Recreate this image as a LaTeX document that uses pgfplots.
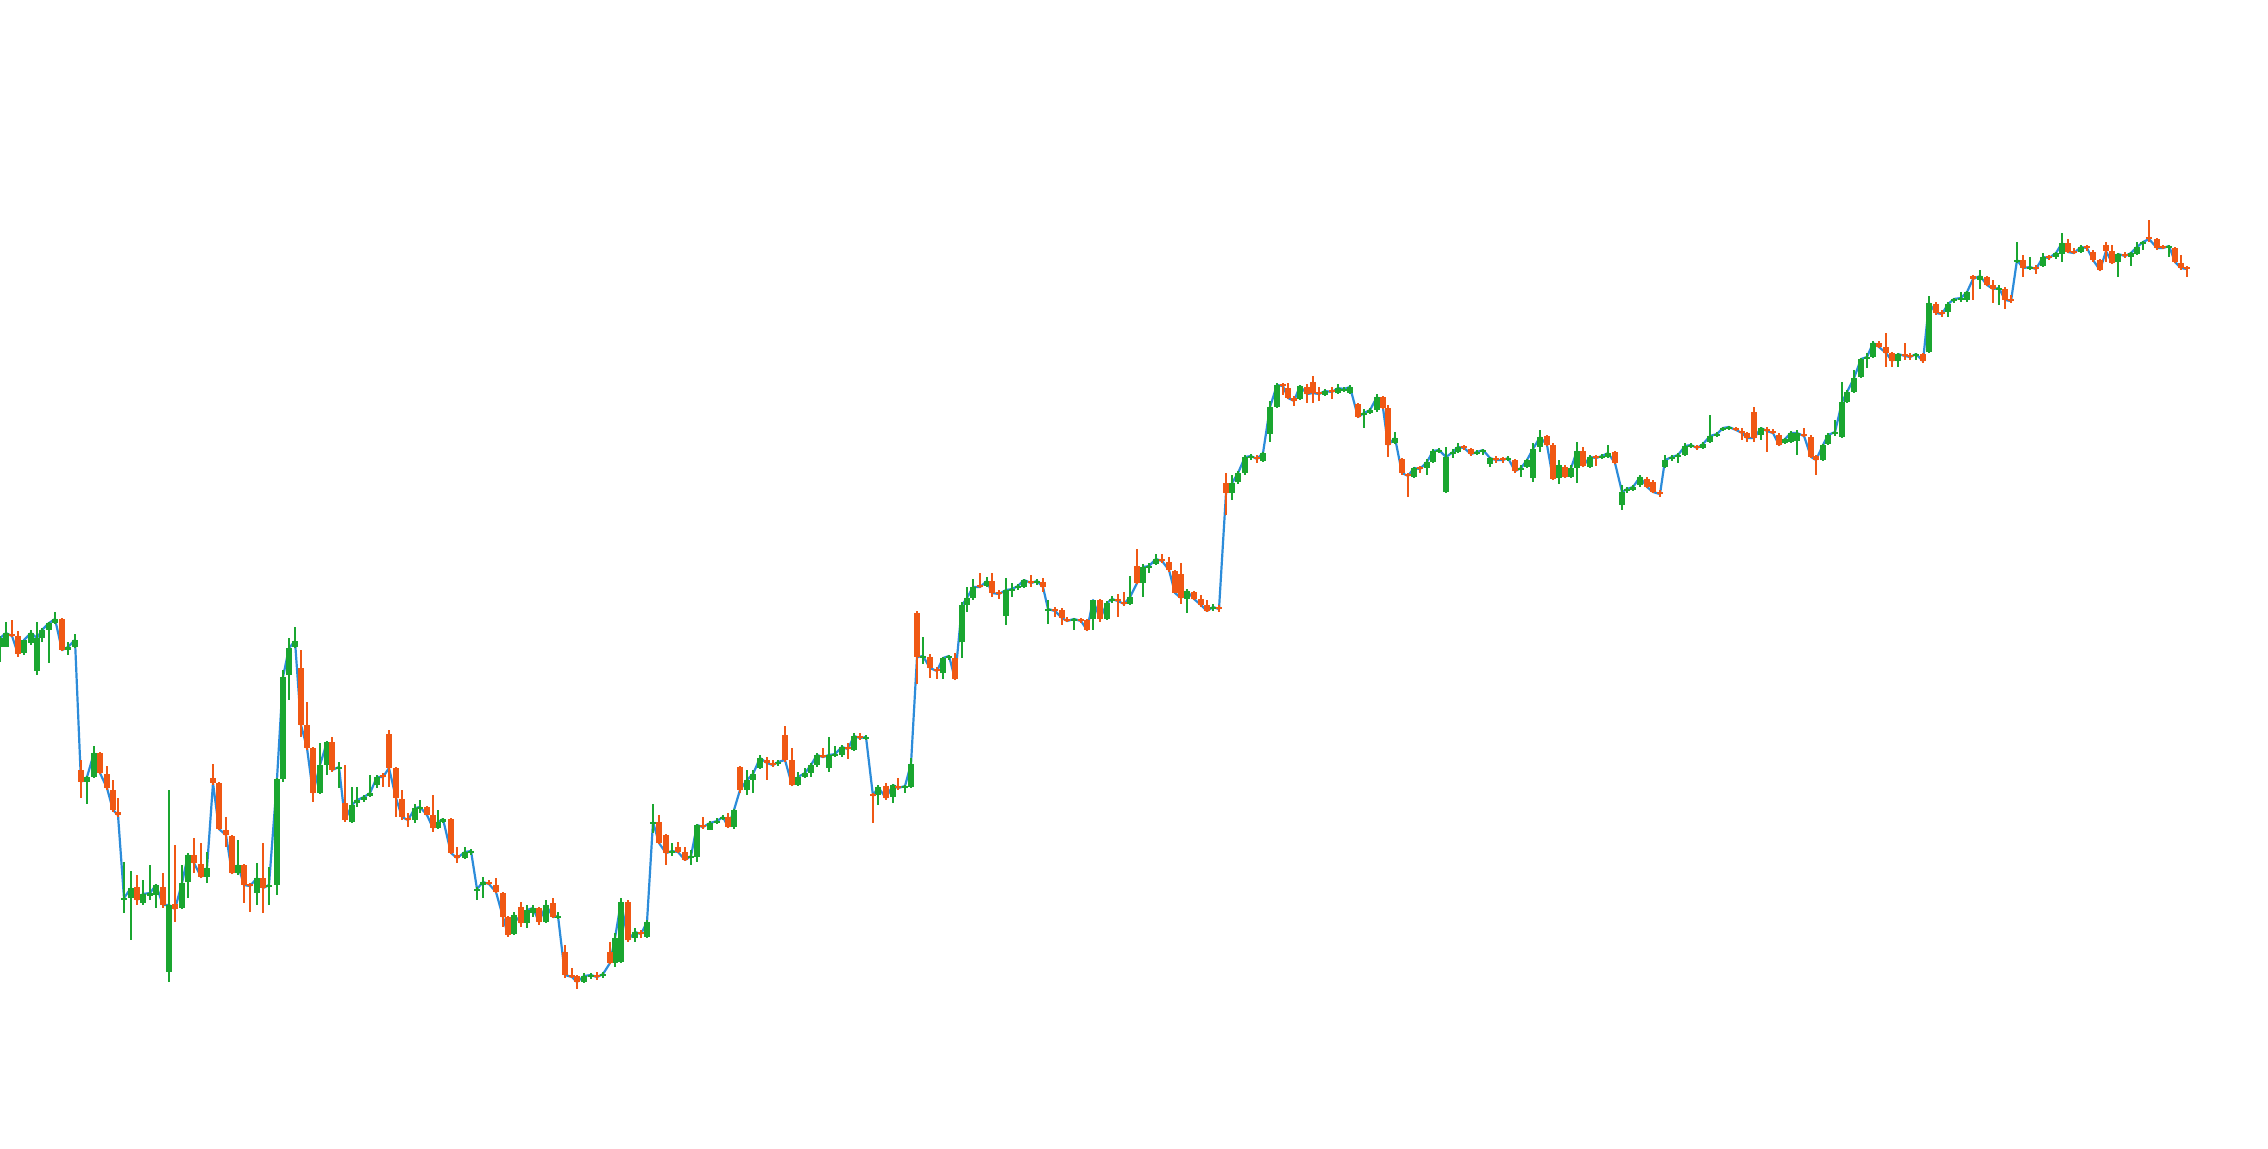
\documentclass[border=0pt]{standalone}
\usepackage{pgfplots}
\usepackage{pgfplotstable}
\pgfplotsset{compat=1.18}
\definecolor{cgreen}{RGB}{26,166,48}
\definecolor{corange}{RGB}{240,88,20}
\definecolor{cblue}{RGB}{44,140,218}
% x = position, o h l c = open, high, low, close (screen rows, y axis reversed)
\pgfplotstableread{
x o h l c
0 647 636 662 638
6 647 622 647 633
12 634 620 637 636
18 636 631 657 654
24 653 640 655 640
31 643 630 645 633
37 671 622 675 638
42 638 628 642 630
49 630 622 663 623
55 623 612 624 619
62 619 618 651 650
68 650 642 655 647
75 647 634 648 640
81 770 760 798 782
87 782 776 804 777
94 777 746 778 753
100 753 752 774 773
107 774 766 790 788
113 790 780 812 810
118 812 798 817 815
124 900 862 913 898
131 898 871 940 888
137 887 875 905 900
143 903 880 905 894
150 896 865 900 893
156 895 884 908 885
163 887 873 908 905
169 972 790 982 905
175 904 845 922 909
182 908 865 909 883
188 882 853 898 855
194 855 838 873 863
201 864 843 878 877
207 877 852 883 868
213 778 764 785 783
219 783 782 830 829
226 830 817 847 835
232 836 835 874 873
238 873 840 875 865
244 865 864 903 885
250 884 883 912 886
257 893 863 905 878
263 878 843 913 888
269 887 867 905 885
277 885 778 895 779
283 779 670 782 677
289 675 638 700 648
295 647 627 648 641
301 668 650 737 725
307 725 702 750 748
313 748 747 802 793
320 793 743 794 765
327 765 741 775 742
332 742 737 772 770
339 769 762 788 767
345 803 765 822 820
352 822 787 823 805
357 803 787 807 800
364 800 795 802 797
370 796 775 797 793
377 785 775 788 777
383 775 773 787 777
389 734 730 787 768
396 768 767 817 798
402 799 790 820 817
408 818 813 827 820
415 820 804 823 808
420 809 800 813 807
427 807 806 815 815
433 815 795 832 828
438 828 810 829 822
443 822 818 823 819
451 819 818 854 853
457 855 847 863 858
465 858 847 859 852
471 853 849 855 851
477 891 887 900 889
483 885 877 898 882
489 882 880 885 884
496 885 878 893 892
503 893 892 927 917
508 917 916 937 935
514 934 912 935 915
521 907 902 927 923
527 923 905 928 910
533 913 905 917 908
539 908 907 925 922
546 922 900 923 905
553 903 898 918 917
558 918 912 919 916
565 952 945 978 975
572 975 968 978 977
577 976 975 989 982
584 982 973 983 976
591 977 973 979 975
597 975 972 980 977
603 976 972 978 974
610 952 942 964 963
615 963 933 967 938
621 962 898 963 902
628 902 900 942 940
635 938 928 942 932
641 932 930 938 934
647 937 920 938 922
653 824 804 833 822
659 822 815 844 843
666 835 834 865 853
672 853 843 856 851
678 847 842 853 852
685 852 847 861 860
691 858 850 865 856
697 857 824 862 825
703 825 817 829 827
710 830 821 830 823
717 823 818 824 821
723 819 815 820 817
728 817 813 828 827
734 827 809 829 810
740 767 766 793 790
747 790 770 795 780
753 780 770 793 774
760 768 755 769 758
767 760 757 780 763
773 763 760 767 765
778 764 760 766 762
785 735 726 762 760
792 760 748 786 785
798 785 772 786 777
805 777 768 778 773
811 773 763 777 765
817 765 753 767 755
823 755 748 758 757
829 768 737 772 755
835 756 746 757 754
842 755 745 757 747
848 747 743 759 749
854 750 733 751 736
860 736 733 740 738
866 739 735 740 737
873 794 793 823 796
878 795 785 805 787
886 786 783 800 798
893 797 784 803 785
898 786 778 790 788
905 788 785 793 786
911 787 758 788 764
917 613 611 684 657
923 658 637 664 656
930 657 654 678 668
937 669 667 679 671
943 673 657 679 658
949 658 655 660 656
955 658 653 680 679
962 642 602 658 605
967 605 587 612 598
973 598 579 600 587
980 585 573 588 587
987 586 577 587 581
992 581 573 597 593
999 592 590 599 594
1006 616 578 625 590
1012 591 583 597 589
1018 588 584 590 586
1024 587 579 588 580
1031 581 575 587 583
1037 583 579 585 581
1043 582 578 592 587
1048 611 600 624 609
1055 609 607 617 611
1062 610 608 625 618
1067 619 617 622 621
1074 621 618 630 619
1081 619 618 623 621
1087 620 619 631 630
1093 619 600 630 600
1100 600 599 622 619
1107 619 601 620 603
1112 601 596 603 599
1118 599 594 617 601
1124 602 592 606 604
1130 604 576 605 597
1137 566 549 584 583
1143 583 564 597 567
1149 568 563 573 566
1156 564 554 565 559
1162 559 554 563 561
1169 562 557 572 570
1175 571 570 593 593
1181 574 563 604 598
1187 599 589 613 591
1194 592 591 600 599
1201 599 595 607 605
1207 605 600 612 611
1213 609 604 611 607
1219 607 605 612 609
1226 483 473 515 493
1232 493 475 500 483
1238 482 471 484 473
1245 473 455 475 457
1251 458 454 460 456
1257 457 455 463 459
1263 461 452 462 453
1270 434 401 442 407
1277 407 383 408 385
1283 384 383 395 386
1288 388 383 399 398
1294 398 396 406 401
1300 399 385 400 386
1307 387 384 403 394
1313 382 376 403 393
1319 392 387 401 394
1325 395 389 396 391
1332 390 387 399 392
1338 393 384 394 388
1344 391 387 392 389
1350 393 385 394 387
1358 404 403 418 417
1364 415 409 428 413
1370 413 408 414 410
1377 410 394 412 397
1383 397 396 409 408
1388 408 405 457 445
1395 443 432 444 438
1402 459 458 475 473
1408 474 473 497 476
1414 477 467 478 468
1420 467 466 473 469
1427 468 459 475 462
1433 462 449 463 451
1439 452 448 453 450
1446 492 447 493 457
1453 454 449 458 452
1458 452 443 453 447
1464 446 445 450 448
1471 449 448 456 454
1477 454 450 455 452
1483 452 449 455 450
1490 464 457 467 458
1496 458 456 463 460
1503 458 457 463 460
1508 460 456 461 458
1515 460 459 473 471
1521 470 465 477 468
1527 467 459 468 460
1533 478 443 482 449
1540 447 430 452 437
1547 436 435 446 445
1553 445 443 480 479
1559 478 460 484 465
1565 467 465 478 477
1571 477 465 478 468
1577 468 442 483 451
1583 451 447 467 466
1590 467 455 468 457
1596 456 455 466 458
1602 458 454 459 456
1608 457 445 458 453
1615 452 451 464 463
1622 505 485 510 492
1627 491 487 493 489
1633 490 485 491 487
1640 485 475 487 477
1647 479 477 488 487
1653 482 480 493 492
1660 492 490 497 494
1665 467 455 468 460
1672 459 455 461 457
1678 457 453 463 455
1685 455 443 456 446
1691 447 443 448 445
1697 446 445 450 448
1703 448 442 449 444
1710 442 415 443 436
1717 436 432 437 434
1723 430 427 431 428
1729 429 426 430 427
1736 428 427 431 430
1742 431 428 440 433
1747 433 432 442 438
1754 412 407 442 438
1761 435 427 440 428
1767 429 427 452 431
1773 431 429 434 433
1779 435 433 446 445
1785 443 438 444 439
1791 442 431 443 433
1797 441 430 455 433
1804 434 428 437 436
1811 437 435 458 457
1816 456 455 475 460
1823 460 444 461 445
1828 444 433 445 435
1835 434 420 436 432
1842 437 382 438 402
1847 402 390 403 392
1854 392 370 393 378
1861 377 358 378 359
1867 359 353 368 357
1873 357 341 358 343
1879 343 341 348 347
1886 347 333 367 353
1892 353 352 367 361
1898 361 353 367 354
1905 354 343 360 356
1910 355 353 360 357
1916 356 353 360 354
1923 354 353 363 361
1929 352 296 353 303
1936 304 302 315 313
1942 312 310 317 314
1948 312 302 317 304
1954 301 298 303 299
1961 300 292 302 298
1967 300 291 302 292
1973 276 275 300 279
1980 280 270 289 276
1987 277 276 286 285
1993 285 280 303 289
1999 290 285 305 288
2005 289 287 309 300
2011 299 295 303 301
2017 262 242 263 260
2023 260 255 277 268
2030 269 257 270 267
2036 267 265 274 269
2043 266 253 267 257
2049 256 255 260 258
2056 257 252 259 253
2062 254 233 262 243
2068 243 239 253 252
2074 251 248 254 253
2081 252 245 253 247
2087 246 245 251 248
2093 252 250 262 260
2100 260 259 271 270
2106 245 242 262 251
2112 251 245 264 263
2118 262 253 277 254
2125 254 252 258 256
2131 257 252 266 253
2137 254 242 255 247
2143 244 241 250 242
2149 237 220 242 239
2157 239 238 250 248
2163 246 245 249 248
2169 248 245 257 246
2175 248 247 263 262
2181 263 255 270 268
2187 267 266 277 269
}\ohlc
\pgfplotsset{
  candle/.style 2 args={draw=none, mark=none, restrict y to domain=0:1148,
    error bars/.cd, y dir=both, y explicit, error mark=none,
    error bar style={draw=#1, line width=#2}},
}
\begin{document}
\begin{tikzpicture}
\fill[white] (0,0) rectangle (20cm,10.1235cm);
\begin{axis}[
  at={(0,0)}, anchor=south west,
  scale only axis, width=20cm, height=10.1235cm,
  xmin=0, xmax=2268, ymin=0, ymax=1148, y dir=reverse,
  hide axis, clip=true,
]
\addplot[cblue, line width=0.55pt, line join=round] table[x=x, y=c] {\ohlc};
% wicks (green = rising, orange = falling)
\addplot[candle={cgreen}{0.5pt}]
  table[x=x, y expr={(\thisrow{c}<\thisrow{o}) ? ((\thisrow{h}+\thisrow{l})/2) : (-1000)},
        y error expr={(\thisrow{l}-\thisrow{h})/2}] {\ohlc};
\addplot[candle={corange}{0.5pt}]
  table[x=x, y expr={(\thisrow{c}>\thisrow{o}) ? ((\thisrow{h}+\thisrow{l})/2) : (-1000)},
        y error expr={(\thisrow{l}-\thisrow{h})/2}] {\ohlc};
% bodies
\addplot[candle={cgreen}{1.5pt}]
  table[x=x, y expr={(\thisrow{c}<\thisrow{o}) ? ((\thisrow{o}+\thisrow{c})/2) : (-1000)},
        y error expr={max(abs(\thisrow{c}-\thisrow{o})/2,1.3)}] {\ohlc};
\addplot[candle={corange}{1.5pt}]
  table[x=x, y expr={(\thisrow{c}>\thisrow{o}) ? ((\thisrow{o}+\thisrow{c})/2) : (-1000)},
        y error expr={max(abs(\thisrow{c}-\thisrow{o})/2,1.3)}] {\ohlc};
\end{axis}
\pgfresetboundingbox
\path (0,0) rectangle (20cm,10.1235cm);
\end{tikzpicture}
\end{document}
